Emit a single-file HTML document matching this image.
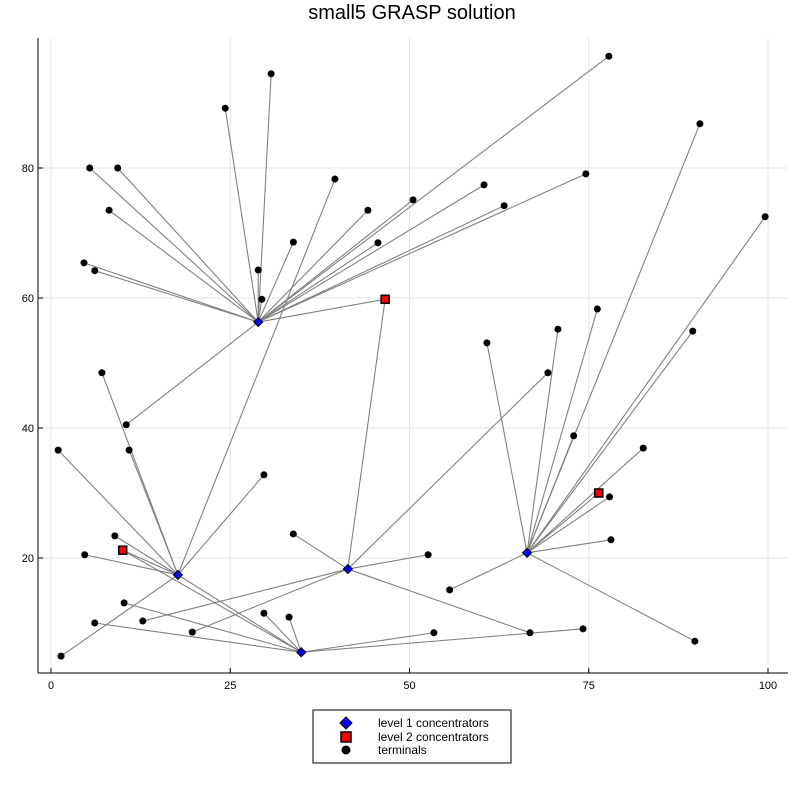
<!DOCTYPE html>
<html><head><meta charset="utf-8"><style>
body{margin:0;background:#fff;font-family:"Liberation Sans",sans-serif}
</style></head><body>
<svg id="chart" width="799" height="800" xmlns="http://www.w3.org/2000/svg">
<text x="412" y="19" font-size="20" text-anchor="middle">small5 GRASP solution</text>
<g id="grid"></g>
<g id="edges"></g>
<g id="marks"></g>
<g id="axes"></g>
<g>
<rect x="313" y="710" width="198" height="53" fill="#fff" stroke="#000" stroke-width="1"/>
<g><path d="M346,717 L352,723 L346,729 L340,723 Z" fill="#00f" stroke="#000"/><text x="378" y="727" font-size="12">level 1 concentrators</text></g>
<g><rect x="341" y="732" width="10" height="10" fill="red" stroke="#000" stroke-width="1.5"/><text x="378" y="741" font-size="12">level 2 concentrators</text></g>
<g><circle cx="346" cy="750" r="4.5" fill="#000"/><text x="378" y="754" font-size="12">terminals</text></g>
</g>
</svg>
<script>
const xTicks=[0,25,50,75,100];
const yTicks=[20,40,60,80];
const level1X=[28.9,17.7,41.4,34.9,66.4];
const level1Y=[56.3,17.4,18.3,5.5,20.8];
const level2X=[46.6,10.0,76.4];
const level2Y=[59.8,21.2,30.0];
const level2Parent=[0,1,4];
const level2Extra=[2,3,-1];
const termX=[24.3,30.7,5.4,9.3,8.1,4.6,6.1,28.9,29.4,33.8,44.2,45.6,50.5,60.4,63.2,77.8,74.6,10.5,
 7.1,10.9,29.7,4.7,1.4,1.0,39.6,8.9,
 12.8,19.7,33.8,52.6,66.8,69.3,
 6.1,10.2,29.7,33.2,53.4,74.2,
 60.8,70.7,76.2,72.9,90.5,99.6,89.5,82.6,77.9,78.1,55.6,89.8];
const termY=[89.2,94.5,80,80,73.5,65.4,64.2,64.3,59.8,68.6,73.5,68.5,75.1,77.4,74.2,97.2,79.1,40.5,
 48.5,36.6,32.8,20.5,4.9,36.6,78.3,23.4,
 10.3,8.6,23.7,20.5,8.5,48.5,
 10.0,13.1,11.5,10.9,8.5,9.1,
 53.1,55.2,58.3,38.8,86.8,72.5,54.9,36.9,29.4,22.8,15.1,7.2];
const termParent=[0,0,0,0,0,0,0,0,0,0,0,0,0,0,0,0,0,0,
 1,1,1,1,1,1,1,1,
 2,2,2,2,2,2,
 3,3,3,3,3,3,
 4,4,4,4,4,4,4,4,4,4,4,4];
const l1Links=[[1,3]];
const NS='http://www.w3.org/2000/svg';
const L=38,R=788,T=38,B=673;
function sx(v){return 51+v*7.17;}
function sy(v){return 688-v*6.5;}
function mk(t,a,p){const e=document.createElementNS(NS,t);for(const k in a)e.setAttribute(k,a[k]);p.appendChild(e);return e;}
const grid=document.getElementById('grid'),axes=document.getElementById('axes'),edges=document.getElementById('edges'),marks=document.getElementById('marks');
xTicks.forEach(t=>{
 const g=mk('line',{x1:sx(t),x2:sx(t),y1:T,y2:B,stroke:'#e6e6e6','stroke-width':1},grid);
 
 
 const tk=mk('line',{x1:sx(t),x2:sx(t),y1:B,y2:B-5,stroke:'#000'},axes);
 
 
 const tx=mk('text',{x:sx(t),y:B+16,'font-size':11,'text-anchor':'middle'},axes);tx.textContent=t;
 
 
});
yTicks.forEach(t=>{
 const g=mk('line',{x1:L,x2:R,y1:sy(t),y2:sy(t),stroke:'#e6e6e6','stroke-width':1},grid);
 
 
 const tk=mk('line',{x1:L,x2:L+5,y1:sy(t),y2:sy(t),stroke:'#000'},axes);
 
 
 const tx=mk('text',{x:L-4,y:sy(t)+4,'font-size':11,'text-anchor':'end'},axes);tx.textContent=t;
 
 
});
const xa=mk('line',{x1:L,x2:R,y1:B,y2:B,stroke:'#000'},axes);


const ya=mk('line',{x1:L,x2:L,y1:T,y2:B,stroke:'#000'},axes);


function edge(x1,y1,x2,y2){const e=mk('line',{x1:sx(x1),y1:sy(y1),x2:sx(x2),y2:sy(y2),stroke:'#808080','stroke-width':1.1},edges);
 
 }
termX.forEach((x,i)=>{const p=termParent[i];edge(x,termY[i],level1X[p],level1Y[p]);});
level2X.forEach((x,i)=>{edge(x,level2Y[i],level1X[level2Parent[i]],level1Y[level2Parent[i]]);if(level2Extra[i]>=0)edge(x,level2Y[i],level1X[level2Extra[i]],level1Y[level2Extra[i]]);});
l1Links.forEach(([a,b])=>edge(level1X[a],level1Y[a],level1X[b],level1Y[b]));
termX.forEach((x,i)=>{const c=mk('circle',{cx:sx(x),cy:sy(termY[i]),r:3.5,fill:'#000'},marks);
 
 });
level2X.forEach((x,i)=>{const r=mk('rect',{x:sx(x)-4,y:sy(level2Y[i])-4,width:8,height:8,fill:'red',stroke:'#000','stroke-width':1.5},marks);
 
 });
level1X.forEach((x,i)=>{const X=sx(x),Y=sy(level1Y[i]);const p=mk('path',{d:`M${X},${Y-4.5} L${X+4.5},${Y} L${X},${Y+4.5} L${X-4.5},${Y} Z`,fill:'#00f',stroke:'#000','stroke-width':1},marks);
 
 });
</script>
</body></html>
